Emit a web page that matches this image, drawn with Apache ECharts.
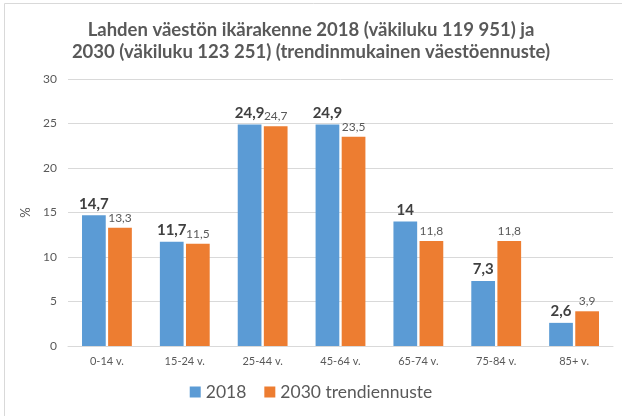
<!DOCTYPE html>
<html>
<head>
<meta charset="utf-8">
<script src="https://cdn.jsdelivr.net/npm/echarts@6/dist/echarts.min.js"></script>
<style>
  html, body { margin:0; padding:0; background:#fff; }
  #chart { width:622px; height:416px; }
</style>
</head>
<body>
<div id="chart"></div>
<script>
// ikäryhmät
var categories = ['0-14 v.', '15-24 v.', '25-44 v.', '45-64 v.', '65-74 v.', '75-84 v.', '85+ v.'];
var values2018 = [14.7, 11.7, 24.9, 24.9, 14, 7.3, 2.6];
var values2030 = [13.3, 11.5, 24.7, 23.5, 11.8, 11.8, 3.9];
var seriesNames = ['2018', '2030 trendiennuste'];
var titleLines = ['Lahden väestön ikärakenne 2018 (väkiluku 119 951) ja', '2030 (väkiluku 123 251) (trendinmukainen väestöennuste)'];

function fi(v){ return String(v).replace('.', ','); }

var chart = echarts.init(document.getElementById('chart'));
var font = 'Lato, "Noto Sans", sans-serif';

var option = {
  animation:false,
  textStyle:{ fontFamily:font },
  graphic:[{
    type:'rect', shape:{ x:4.5, y:3.5, width:640, height:420 },
    style:{ fill:'none', stroke:'#d9d9d9', lineWidth:1 }, silent:true
  }],
  title:{
    text: titleLines.join('\n'),
    left:'center', top:14,
    textStyle:{ fontFamily:font, fontSize:18.5, fontWeight:'bold', color:'#595959', lineHeight:22 }
  },
  legend:{
    data: seriesNames,
    bottom:10, left:'center',
    itemWidth:11, itemHeight:11, itemGap:18,
    icon:'rect',
    textStyle:{ fontFamily:font, fontSize:17.5, color:'#595959' }
  },
  grid:{ left:68, right:9, top:79, bottom:70, containLabel:false },
  xAxis:{
    type:'category',
    data: categories,
    axisTick:{ show:false },
    axisLine:{ lineStyle:{ color:'#d9d9d9' } },
    axisLabel:{ color:'#595959', fontSize:11, margin:10 }
  },
  yAxis:{
    type:'value', min:0, max:30, interval:5,
    name:'%', nameLocation:'middle', nameGap:32, nameRotate:90,
    nameTextStyle:{ color:'#595959', fontSize:13 },
    axisLine:{ show:false }, axisTick:{ show:false },
    splitLine:{ lineStyle:{ color:'#d9d9d9' } },
    axisLabel:{ color:'#595959', fontSize:12, margin:11 }
  },
  series:[{
    name: seriesNames[0], type:'bar', data: values2018,
    barGap:'10%', barCategoryGap:'36%',
    itemStyle:{ color:'#5b9bd5' },
    label:{ show:true, position:'top', distance:4, fontSize:15, fontWeight:'bold', color:'#404040',
      formatter:function(p){ return fi(p.value); } }
  },{
    name: seriesNames[1], type:'bar', data: values2030,
    itemStyle:{ color:'#ed7d31' },
    label:{ show:true, position:'top', distance:4, fontSize:12, color:'#595959',
      formatter:function(p){ return fi(p.value); } }
  }]
};
chart.setOption(option);
</script>
</body>
</html>
